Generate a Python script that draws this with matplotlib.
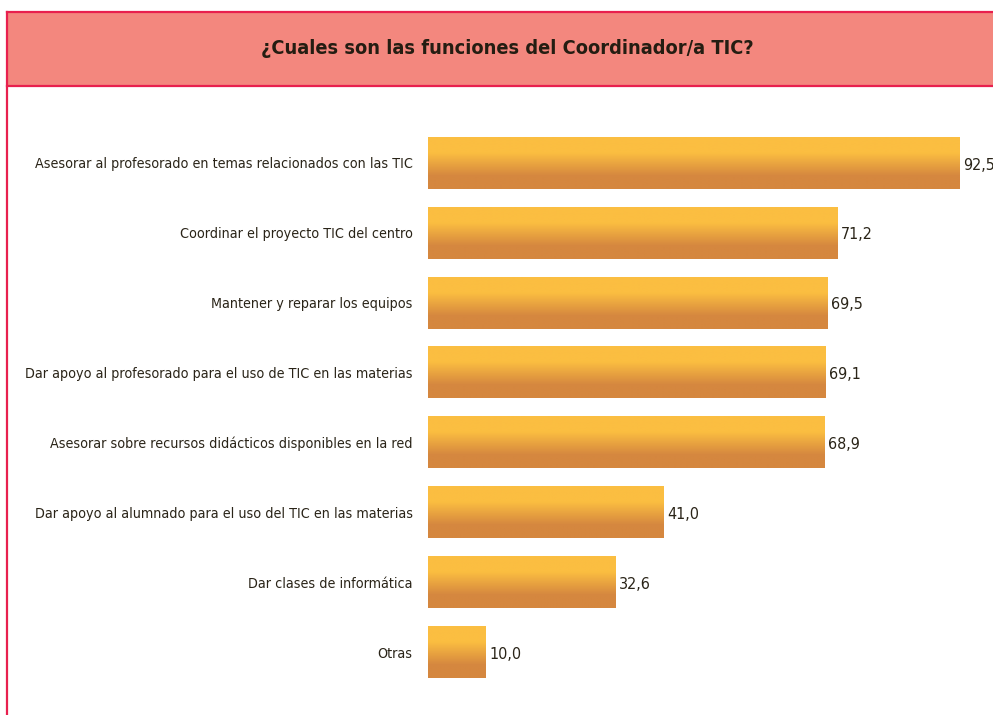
import matplotlib.pyplot as plt
import numpy as np
from matplotlib.colors import to_rgb
from matplotlib.patches import Rectangle
from matplotlib.lines import Line2D

plt.rcParams["font.family"] = ["DejaVu Sans"]
plt.rcParams["font.stretch"] = "condensed"

title = "¿Cuales son las funciones del Coordinador/a TIC?"
categories = [
    "Asesorar al profesorado en temas relacionados con las TIC",
    "Coordinar el proyecto TIC del centro",
    "Mantener y reparar los equipos",
    "Dar apoyo al profesorado para el uso de TIC en las materias",
    "Asesorar sobre recursos didácticos disponibles en la red",
    "Dar apoyo al alumnado para el uso del TIC en las materias",
    "Dar clases de informática",
    "Otras",
]
values = [92.5, 71.2, 69.5, 69.1, 68.9, 41.0, 32.6, 10.0]
value_labels = ["92,5", "71,2", "69,5", "69,1", "68,9", "41,0", "32,6", "10,0"]

W, H = 993, 715
fig = plt.figure(figsize=(W / 100, H / 100), dpi=100)

# banner with the title
border = "#e8204e"
fig.patches.append(Rectangle((7 / W, 1 - 86 / H), 1, 74 / H, transform=fig.transFigure,
                             facecolor="#f3877e", edgecolor="none", zorder=0))
for y in (12, 86):
    fig.add_artist(Line2D([7 / W, 1], [1 - y / H] * 2, color=border, lw=1.6))
fig.add_artist(Line2D([7 / W] * 2, [1 - 12 / H, 0], color=border, lw=1.6))
fig.text(507 / W, 1 - 49 / H, title, ha="center", va="center", fontsize=14.3,
         fontweight="bold", color="#241d12")

# bars area: x=0 at pixel 428, 5.751 px per unit; rows 69.86 px apart, first at 163
px_per_unit = 5.751
row = 69.86
ax = fig.add_axes([428 / W, 0, 1 - 428 / W, 615 / H])

# vertical gradient yellow -> orange
top = np.array(to_rgb("#fbbe41"))
bot = np.array(to_rgb("#d5873f"))
t = np.linspace(0, 1, 100)
mix = np.clip((t - 0.3) / 0.45, 0, 1)[:, None]
grad = (top * (1 - mix) + bot * mix)[:, None, :]

bar_h = 0.74
for i, v in enumerate(values):
    ax.imshow(grad, extent=[0, v, i + bar_h / 2, i - bar_h / 2], aspect="auto",
              interpolation="bilinear", zorder=2)
    ax.text(v + 0.6, i + 0.03, value_labels[i], va="center", ha="left", fontsize=11.5,
            color="#2a2418")

ax.set_xlim(0, (W - 428) / px_per_unit)
ax.set_ylim(7 + 63 / row, -(63 / row))
ax.set_yticks(range(len(categories)))
ax.set_yticklabels(categories, fontsize=10.3, color="#2a2418")
ax.tick_params(axis="y", length=0, pad=11)
ax.set_xticks([])
for s in ax.spines.values():
    s.set_visible(False)
ax.patch.set_alpha(0)

fig.savefig("out.png", dpi=100)
